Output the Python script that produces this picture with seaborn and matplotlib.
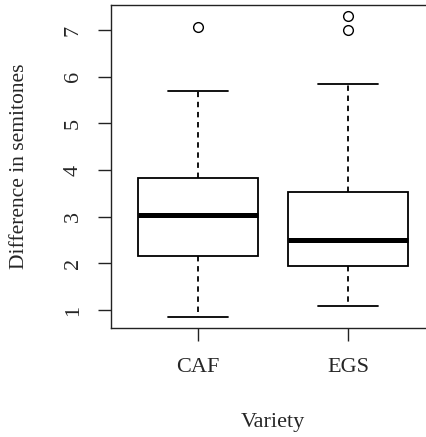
import matplotlib
matplotlib.use("Agg")
import matplotlib.pyplot as plt
import seaborn as sns
import pandas as pd

categories = ["CAF", "EGS"]
lower_whisker = [0.85, 1.08]
q1 = [2.16, 1.94]
median = [3.03, 2.50]
q3 = [3.83, 3.52]
upper_whisker = [5.69, 5.85]
outliers = [[7.07], [7.00, 7.30]]
repeats = [2, 3]  # repetition of summary values so quartiles fall on them
y_ticks = [1, 2, 3, 4, 5, 6, 7]

rows = []
for i, cat in enumerate(categories):
    vals = [lower_whisker[i]] + [q1[i]] * repeats[i] + [median[i]] * repeats[i] \
        + [q3[i]] * repeats[i] + [upper_whisker[i]] + outliers[i]
    for v in vals:
        rows.append({"Variety": cat, "value": v})
df = pd.DataFrame(rows)

sns.set_style("ticks")
plt.rcParams["font.family"] = ["Liberation Serif", "DejaVu Serif"]

W, H = 427, 437
fig = plt.figure(figsize=(W / 100, H / 100), dpi=100)
ax = fig.add_axes([111 / W, 1 - 328 / H, (435 - 111) / W, (328 - 5) / H])

sns.boxplot(
    data=df, x="Variety", y="value", order=categories, color="white",
    width=0.8, linecolor="black", linewidth=1.3, whis=1.5,
    whiskerprops=dict(linestyle=(0, (3, 2.6)), linewidth=1.3),
    capprops=dict(linewidth=1.3),
    medianprops=dict(linewidth=3.6, color="black"),
    flierprops=dict(marker="o", markersize=7, markerfacecolor="none",
                    markeredgecolor="black", markeredgewidth=1.0),
    ax=ax,
)

ax.set_xlim(-0.58, 1.58)
ax.set_ylim(0.614, 7.535)
ax.set_yticks(y_ticks)
ax.set_yticklabels([str(t) for t in y_ticks], rotation=90, va="center")
ax.set_xlabel("")
ax.set_ylabel("")
for s in ax.spines.values():
    s.set_visible(True)
    s.set_linewidth(1.0)
    s.set_color("#222222")
ax.tick_params(axis="both", length=9.4, width=1.0, labelsize=16, color="#222222")
ax.tick_params(axis="y", pad=11)
ax.tick_params(axis="x", pad=12)

fig.text(273 / W, 1 - 423 / H, "Variety", ha="center", va="center", fontsize=16)
fig.text(20 / W, 1 - 166.5 / H, "Difference in semitones", ha="center", va="center",
         rotation=90, fontsize=15.5)

fig.savefig("out.png", dpi=100)
